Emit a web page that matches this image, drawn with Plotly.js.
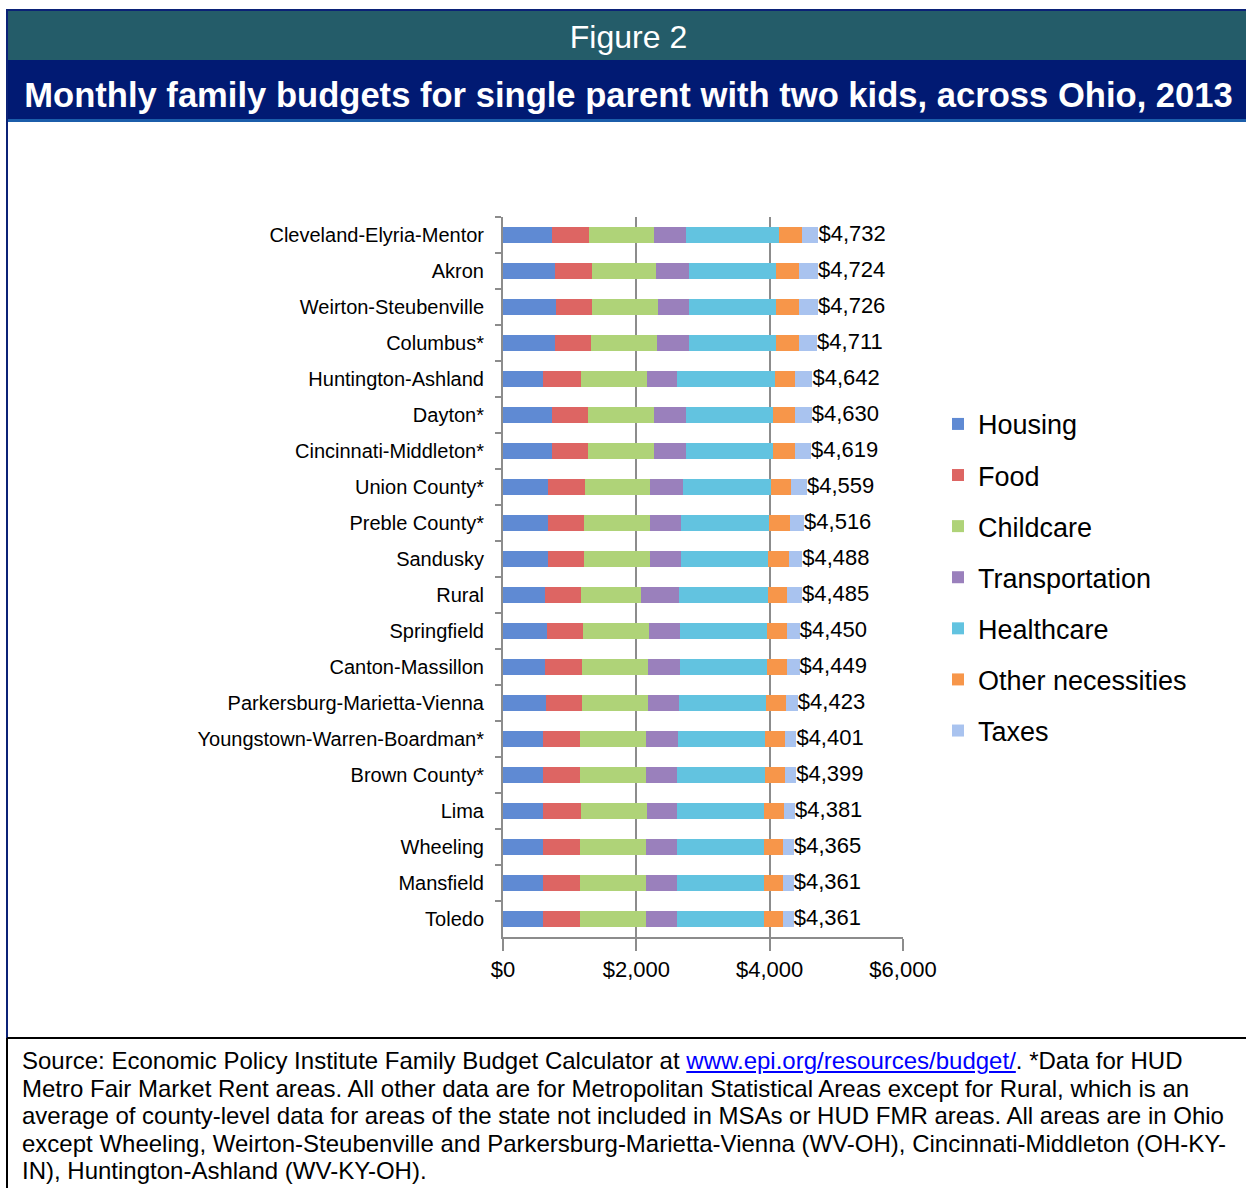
<!DOCTYPE html>
<html>
<head>
<meta charset="utf-8">
<script src="https://cdn.plot.ly/plotly-3.0.1.min.js"></script>
<style>
  html, body { margin: 0; padding: 0; background: #ffffff; }
  body { width: 1246px; height: 1188px; position: relative; overflow: hidden; font-family: "Liberation Sans", Arial, sans-serif; }
  #chart { position: absolute; left: 0; top: 0; width: 1246px; height: 1188px; z-index: 0; }
  .box { position: absolute; z-index: 2; }
  #fig { left: 7px; top: 11px; width: 1239px; height: 49px; background: #245C69; color: #fff; font-size: 32px; line-height: 52px; text-align: center; padding-left: 4px; box-sizing: border-box; }
  #ttl { left: 7px; top: 60px; width: 1239px; height: 59px; background: #011A73; color: #fff; font-size: 34.6px; font-weight: bold; line-height: 70px; text-align: center; box-sizing: border-box; padding-left: 4px; white-space: nowrap; }
  #foot { left: 22px; top: 1047px; width: 1220px; font-size: 24px; line-height: 27.5px; color: #000; white-space: nowrap; }
  #foot a { color: #0000FF; text-decoration: underline; }
</style>
</head>
<body>
<div id="chart"></div>
<div class="box" style="left:6px;top:9px;width:1240px;height:2px;background:#0B2277;"></div>
<div class="box" id="fig">Figure 2</div>
<div class="box" id="ttl">Monthly family budgets for single parent with two kids, across Ohio, 2013</div>
<div class="box" style="left:7px;top:119px;width:1239px;height:3px;background:#1B5DAA;"></div>
<div class="box" style="left:6px;top:10px;width:2px;height:1028px;background:#0B2277;"></div>
<div class="box" style="left:7px;top:1037px;width:1239px;height:2px;background:#000;"></div>
<div class="box" style="left:6px;top:1038px;width:2px;height:150px;background:#000;"></div>
<div class="box" id="foot">Source: Economic Policy Institute Family Budget Calculator at <a href="http://www.epi.org/resources/budget/">www.epi.org/resources/budget/</a>. *Data for HUD<br>Metro Fair Market Rent areas. All other data are for Metropolitan Statistical Areas except for Rural, which is an<br>average of county-level data for areas of the state not included in MSAs or HUD FMR areas. All areas are in Ohio<br>except Wheeling, Weirton-Steubenville and Parkersburg-Marietta-Vienna (WV-OH), Cincinnati-Middleton (OH-KY-<br>IN), Huntington-Ashland (WV-KY-OH).</div>
<script>
const areas = ["Cleveland-Elyria-Mentor","Akron","Weirton-Steubenville","Columbus*","Huntington-Ashland","Dayton*","Cincinnati-Middleton*","Union County*","Preble County*","Sandusky","Rural","Springfield","Canton-Massillon","Parkersburg-Marietta-Vienna","Youngstown-Warren-Boardman*","Brown County*","Lima","Wheeling","Mansfield","Toledo"];
const housing        = [730, 775, 790, 775, 605, 730, 730, 670, 670, 670, 625, 655, 625, 640, 605, 605, 605, 605, 605, 605];
const food           = [555, 555, 540, 540, 560, 540, 540, 560, 540, 540, 540, 540, 555, 540, 545, 545, 560, 545, 545, 545];
const childcare      = [975, 970, 990, 990, 990, 990, 990, 970, 990, 990, 900, 990, 990, 990, 990, 990, 990, 990, 990, 990];
const transportation = [480, 485, 465, 480, 450, 480, 480, 495, 465, 465, 570, 465, 480, 465, 480, 465, 450, 465, 465, 465];
const healthcare     = [1405, 1305, 1305, 1305, 1470, 1305, 1315, 1320, 1320, 1305, 1335, 1305, 1305, 1305, 1305, 1320, 1305, 1305, 1305, 1305];
const otherNec       = [335, 350, 350, 350, 305, 330, 320, 310, 315, 315, 295, 300, 300, 300, 300, 300, 300, 285, 285, 285];
const taxes          = [252, 284, 286, 271, 262, 255, 244, 234, 216, 203, 220, 195, 194, 183, 176, 174, 171, 170, 166, 166];
const totals         = [4732, 4724, 4726, 4711, 4642, 4630, 4619, 4559, 4516, 4488, 4485, 4450, 4449, 4423, 4401, 4399, 4381, 4365, 4361, 4361];
const totalLabels    = ["$4,732","$4,724","$4,726","$4,711","$4,642","$4,630","$4,619","$4,559","$4,516","$4,488","$4,485","$4,450","$4,449","$4,423","$4,401","$4,399","$4,381","$4,365","$4,361","$4,361"];
const xTickVals      = [0, 2000, 4000, 6000];
const xTickText      = ["$0","$2,000","$4,000","$6,000"];

const seriesNames  = ["Housing","Food","Childcare","Transportation","Healthcare","Other necessities","Taxes"];
const seriesValues = [housing, food, childcare, transportation, healthcare, otherNec, taxes];
const seriesColors = ["#5F8AD3","#DD6563","#AFD378","#9A80BC","#62C3E0","#F7964A","#A9C3EF"];

const FONT = '"Liberation Sans", Arial, sans-serif';

const traces = seriesNames.map((n, i) => ({
  type: 'bar', orientation: 'h', name: n, legendgroup: n,
  y: areas, x: seriesValues[i],
  marker: { color: seriesColors[i], line: { width: 0 } },
  hoverinfo: 'skip'
}));
traces.push({
  type: 'scatter', mode: 'text', y: areas, x: totals, text: totalLabels,
  textposition: 'middle right', textfont: { family: FONT, size: 22, color: '#000' },
  showlegend: false, cliponaxis: false, hoverinfo: 'skip'
});

const layout = {
  width: 1246, height: 1188,
  margin: { l: 503, r: 343, t: 217, b: 251, pad: 0 },
  paper_bgcolor: 'rgba(0,0,0,0)', plot_bgcolor: 'rgba(0,0,0,0)',
  barmode: 'stack', bargap: 0.57,
  showlegend: true,
  legend: {
    x: 1.0875, xanchor: 'left', y: 0.746, yanchor: 'top',
    traceorder: 'grouped', tracegroupgap: 13,
    font: { family: FONT, size: 27, color: '#000' },
    bgcolor: 'rgba(0,0,0,0)', itemclick: false, itemdoubleclick: false
  },
  xaxis: {
    range: [0, 6000], tickvals: xTickVals, ticktext: xTickText,
    showgrid: true, gridcolor: '#8C8C8C', gridwidth: 2, zeroline: false,
    showline: true, linecolor: '#8C8C8C', linewidth: 2,
    ticks: 'outside', ticklen: 12, tickcolor: '#8C8C8C', tickwidth: 2,
    tickfont: { family: FONT, size: 22, color: '#000' }, fixedrange: true
  },
  yaxis: {
    type: 'category', range: [19.5, -0.5], autorange: false,
    showline: true, linecolor: '#8C8C8C', linewidth: 2,
    ticks: 'outside', tickson: 'boundaries', ticklen: 6, tickcolor: '#8C8C8C', tickwidth: 2,
    ticklabelstandoff: 13,
    tickfont: { family: FONT, size: 20, color: '#000' }, fixedrange: true
  }
};

Plotly.newPlot('chart', traces, layout, { displayModeBar: false, staticPlot: true });
</script>
</body>
</html>
